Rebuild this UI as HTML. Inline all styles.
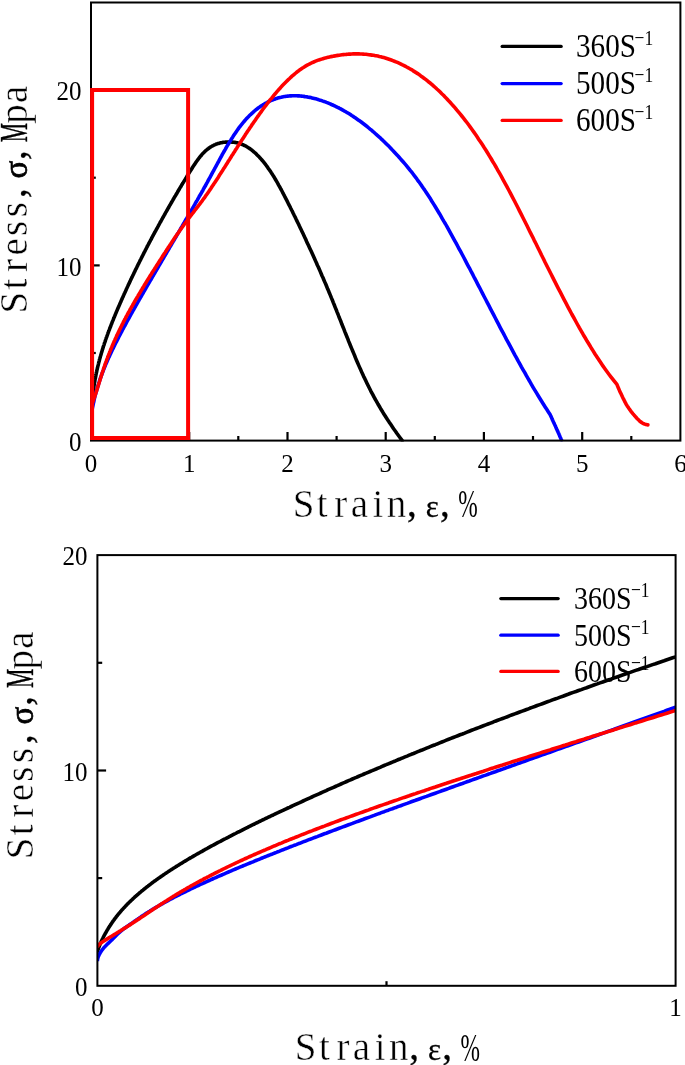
<!DOCTYPE html>
<html lang="en"><head><meta charset="utf-8"><title>Stress-strain curves</title>
<style>html,body{margin:0;padding:0;background:#fff}svg{display:block}</style></head>
<body>
<svg width="685" height="1065" viewBox="0 0 685 1065">
<rect width="685" height="1065" fill="#fff"/>
<g fill="none" stroke-width="3.6" stroke-linejoin="round" stroke-linecap="round" clip-path="url(#ct)">
<path d="M91.0 413.6 L91.0 413.5 L91.0 413.4 L91.0 413.3 L91.0 413.1 L91.0 413.0 L91.0 412.8 L91.0 412.6 L91.0 412.4 L91.0 412.2 L91.1 412.0 L91.1 411.8 L91.1 411.5 L91.1 411.3 L91.1 411.0 L91.1 410.8 L91.2 410.5 L91.2 410.2 L91.2 409.9 L91.2 409.6 L91.2 409.3 L91.3 409.0 L91.3 408.6 L91.3 408.3 L91.4 407.9 L91.4 407.6 L91.4 407.2 L91.4 406.8 L91.5 406.4 L91.5 406.0 L91.6 405.6 L91.6 405.2 L91.6 404.8 L91.7 404.4 L91.7 404.0 L91.8 403.5 L91.8 403.1 L91.8 402.7 L91.9 402.2 L91.9 401.7 L92.0 401.3 L92.0 400.8 L92.1 400.3 L92.1 399.9 L92.2 399.4 L92.2 398.9 L92.3 398.4 L92.4 397.9 L92.4 397.4 L92.5 396.9 L92.5 396.4 L92.6 395.9 L92.7 395.3 L92.7 394.8 L92.8 394.3 L92.9 393.8 L92.9 393.2 L93.0 392.7 L93.1 392.2 L93.1 391.6 L93.2 391.1 L93.3 390.5 L93.4 390.0 L93.4 389.5 L93.5 388.9 L93.6 388.4 L93.7 387.8 L93.8 387.3 L93.9 386.7 L93.9 386.2 L94.0 385.6 L94.1 385.1 L94.2 384.5 L94.3 384.0 L94.4 383.4 L94.5 382.9 L94.6 382.3 L94.7 381.8 L94.8 381.2 L94.9 380.7 L94.9 380.1 L95.0 379.6 L95.1 379.0 L95.3 378.5 L95.4 377.9 L95.5 377.4 L95.6 376.8 L95.7 376.3 L95.8 375.8 L95.9 375.2 L96.0 374.7 L96.1 374.1 L96.2 373.6 L96.3 373.0 L96.5 372.5 L96.6 371.9 L96.7 371.4 L96.8 370.8 L96.9 370.3 L97.0 369.8 L97.2 369.2 L97.3 368.7 L97.4 368.1 L97.5 367.6 L97.7 367.0 L97.8 366.5 L97.9 366.0 L98.1 365.4 L98.2 364.9 L98.3 364.3 L98.5 363.8 L98.6 363.3 L98.7 362.7 L98.9 362.2 L99.0 361.6 L99.2 361.1 L99.3 360.6 L99.4 360.0 L99.6 359.5 L99.7 358.9 L99.9 358.4 L100.0 357.8 L100.2 357.3 L100.3 356.8 L100.5 356.2 L100.6 355.7 L100.8 355.1 L101.0 354.6 L101.1 354.1 L101.3 353.5 L101.4 353.0 L101.6 352.4 L101.8 351.9 L101.9 351.3 L102.1 350.8 L102.2 350.3 L102.4 349.7 L102.6 349.2 L102.8 348.6 L102.9 348.1 L103.1 347.5 L103.3 347.0 L103.4 346.5 L103.6 345.9 L103.8 345.4 L104.0 344.8 L104.2 344.3 L104.3 343.7 L104.5 343.2 L104.7 342.6 L104.9 342.1 L105.1 341.5 L105.3 341.0 L105.4 340.4 L105.6 339.9 L105.8 339.3 L106.0 338.8 L106.2 338.2 L106.4 337.7 L106.6 337.1 L106.8 336.6 L107.0 336.0 L107.2 335.4 L107.4 334.9 L107.6 334.3 L107.8 333.8 L108.0 333.2 L108.2 332.7 L108.4 332.1 L108.6 331.5 L108.8 331.0 L109.0 330.4 L109.3 329.9 L109.5 329.3 L109.7 328.7 L109.9 328.2 L110.1 327.6 L110.3 327.0 L110.6 326.5 L110.8 325.9 L111.0 325.3 L111.2 324.7 L111.4 324.2 L111.7 323.6 L111.9 323.0 L112.1 322.4 L112.3 321.9 L112.6 321.3 L112.8 320.7 L113.0 320.1 L113.3 319.6 L113.5 319.0 L113.7 318.4 L114.0 317.8 L114.2 317.2 L114.5 316.6 L114.7 316.1 L114.9 315.5 L115.2 314.9 L115.4 314.3 L115.7 313.7 L115.9 313.1 L116.2 312.5 L116.4 311.9 L116.7 311.3 L116.9 310.7 L117.2 310.1 L117.4 309.5 L117.7 308.9 L118.0 308.3 L118.2 307.7 L118.5 307.1 L118.7 306.5 L119.0 305.9 L119.3 305.3 L119.5 304.7 L119.8 304.0 L120.1 303.4 L120.3 302.8 L120.6 302.2 L120.9 301.6 L121.1 301.0 L121.4 300.3 L121.7 299.7 L122.0 299.1 L122.2 298.5 L122.5 297.8 L122.8 297.2 L123.1 296.6 L123.4 295.9 L123.6 295.3 L123.9 294.7 L124.2 294.0 L124.5 293.4 L124.8 292.8 L125.1 292.1 L125.4 291.5 L125.7 290.8 L126.0 290.2 L126.2 289.6 L126.5 288.9 L126.8 288.3 L127.1 287.6 L127.4 287.0 L127.7 286.3 L128.0 285.7 L128.3 285.0 L128.6 284.4 L129.0 283.7 L129.3 283.0 L129.6 282.4 L129.9 281.7 L130.2 281.1 L130.5 280.4 L130.8 279.7 L131.1 279.1 L131.4 278.4 L131.8 277.7 L132.1 277.1 L132.4 276.4 L132.7 275.7 L133.0 275.1 L133.4 274.4 L133.7 273.7 L134.0 273.0 L134.3 272.4 L134.7 271.7 L135.0 271.0 L135.3 270.3 L135.6 269.6 L136.0 269.0 L136.3 268.3 L136.7 267.6 L137.0 266.9 L137.3 266.2 L137.7 265.5 L138.0 264.8 L138.3 264.1 L138.7 263.5 L139.0 262.8 L139.4 262.1 L139.7 261.4 L140.1 260.7 L140.4 260.0 L140.8 259.3 L141.1 258.6 L141.5 257.9 L141.8 257.2 L142.2 256.5 L142.5 255.8 L142.9 255.1 L143.3 254.4 L143.6 253.7 L144.0 252.9 L144.3 252.2 L144.7 251.5 L145.1 250.8 L145.4 250.1 L145.8 249.4 L146.2 248.7 L146.5 248.0 L146.9 247.2 L147.3 246.5 L147.6 245.8 L148.0 245.1 L148.4 244.4 L148.8 243.7 L149.2 242.9 L149.5 242.2 L149.9 241.5 L150.3 240.8 L150.7 240.0 L151.1 239.3 L151.5 238.6 L151.8 237.9 L152.2 237.1 L152.6 236.4 L153.0 235.7 L153.4 234.9 L153.8 234.2 L154.2 233.5 L154.6 232.7 L155.0 232.0 L155.4 231.2 L155.8 230.5 L156.2 229.8 L156.6 229.0 L157.0 228.3 L157.4 227.6 L157.8 226.8 L158.2 226.1 L158.6 225.3 L159.0 224.6 L159.4 223.8 L159.8 223.1 L160.2 222.3 L160.7 221.6 L161.1 220.8 L161.5 220.1 L161.9 219.3 L162.3 218.6 L162.7 217.8 L163.2 217.1 L163.6 216.3 L164.0 215.6 L164.4 214.8 L164.9 214.1 L165.3 213.3 L165.7 212.5 L166.2 211.8 L166.6 211.0 L167.0 210.3 L167.5 209.5 L167.9 208.7 L168.3 208.0 L168.8 207.2 L169.2 206.4 L169.9 205.2 L170.5 204.2 L171.0 203.3 L171.6 202.3 L172.1 201.4 L172.7 200.4 L173.2 199.4 L173.8 198.5 L174.3 197.5 L174.9 196.6 L175.5 195.6 L176.0 194.7 L176.6 193.7 L177.2 192.7 L177.7 191.8 L178.3 190.8 L178.9 189.8 L179.4 188.9 L180.0 187.9 L180.6 186.9 L181.2 186.0 L181.7 185.0 L182.3 184.0 L182.9 183.1 L183.5 182.1 L184.1 181.1 L184.7 180.1 L185.3 179.2 L185.9 178.2 L186.5 177.2 L187.0 176.3 L187.6 175.3 L188.2 174.3 L188.8 173.3 L189.5 172.4 L190.1 171.4 L190.7 170.4 L191.3 169.5 L191.9 168.5 L192.5 167.5 L193.1 166.6 L193.7 165.6 L194.4 164.7 L195.0 163.8 L195.6 162.8 L196.2 161.9 L196.9 161.0 L197.5 160.2 L198.1 159.3 L198.7 158.5 L199.4 157.6 L200.0 156.8 L200.7 156.1 L201.3 155.3 L201.9 154.5 L202.6 153.8 L203.2 153.1 L203.9 152.5 L204.5 151.8 L205.2 151.2 L205.8 150.6 L206.5 150.1 L207.1 149.5 L207.8 149.0 L208.5 148.5 L209.1 148.0 L209.8 147.5 L210.4 147.1 L211.1 146.7 L211.8 146.3 L212.5 145.9 L213.1 145.6 L213.8 145.2 L214.5 144.9 L215.2 144.6 L215.8 144.3 L216.5 144.1 L217.2 143.8 L217.9 143.6 L218.6 143.4 L219.3 143.2 L220.0 143.0 L220.7 142.8 L221.4 142.7 L222.1 142.6 L222.8 142.4 L223.5 142.3 L224.2 142.3 L224.9 142.2 L225.6 142.1 L226.3 142.1 L227.0 142.0 L227.7 142.0 L228.4 142.0 L229.1 142.0 L229.8 142.0 L230.6 142.0 L231.3 142.0 L232.0 142.1 L232.7 142.1 L233.5 142.2 L234.2 142.3 L234.9 142.4 L235.7 142.5 L236.4 142.7 L237.1 142.8 L237.9 143.0 L238.6 143.2 L239.4 143.4 L240.1 143.7 L240.8 143.9 L241.6 144.2 L242.3 144.5 L243.1 144.8 L243.8 145.2 L244.6 145.5 L245.4 145.9 L246.1 146.3 L246.9 146.8 L247.6 147.2 L248.4 147.7 L249.2 148.2 L249.9 148.8 L250.7 149.3 L251.5 149.9 L252.3 150.5 L253.0 151.1 L253.8 151.8 L254.6 152.5 L255.4 153.2 L256.2 153.9 L256.9 154.7 L257.7 155.5 L258.5 156.3 L259.3 157.1 L260.1 158.0 L260.9 158.9 L261.7 159.8 L262.5 160.7 L263.3 161.7 L264.1 162.7 L264.9 163.7 L265.7 164.7 L266.5 165.8 L267.3 166.9 L268.1 168.1 L268.9 169.2 L269.8 170.4 L270.6 171.6 L271.4 172.9 L272.2 174.1 L273.0 175.4 L273.9 176.8 L274.7 178.1 L275.5 179.5 L276.3 180.9 L277.2 182.4 L278.0 183.8 L278.8 185.3 L279.7 186.9 L280.5 188.4 L281.4 190.0 L282.2 191.5 L283.0 193.2 L283.9 194.8 L284.7 196.4 L285.6 198.1 L286.4 199.7 L287.3 201.4 L288.1 203.1 L289.0 204.8 L289.9 206.5 L290.7 208.2 L291.6 210.0 L292.5 211.7 L293.3 213.5 L294.2 215.3 L295.1 217.0 L295.9 218.8 L296.8 220.6 L297.7 222.5 L298.6 224.3 L299.4 226.1 L300.3 228.0 L301.2 229.8 L302.1 231.7 L303.0 233.6 L303.9 235.5 L304.8 237.4 L305.7 239.3 L306.5 241.2 L307.4 243.2 L308.3 245.1 L309.2 247.1 L310.1 249.0 L311.1 251.0 L312.0 253.0 L312.9 255.0 L313.8 257.0 L314.7 259.0 L315.6 261.1 L316.5 263.1 L317.4 265.2 L318.4 267.2 L319.3 269.3 L320.2 271.4 L321.1 273.5 L322.0 275.7 L323.0 277.8 L323.9 280.0 L324.8 282.1 L325.8 284.3 L326.7 286.5 L327.6 288.8 L328.6 291.0 L329.5 293.3 L330.5 295.6 L331.4 297.9 L332.4 300.2 L333.3 302.6 L334.3 305.0 L335.2 307.3 L336.2 309.7 L337.1 312.1 L338.1 314.5 L339.0 317.0 L340.0 319.4 L341.0 321.8 L341.9 324.3 L342.9 326.7 L343.9 329.2 L344.8 331.6 L345.8 334.0 L346.8 336.5 L347.8 338.9 L348.7 341.4 L349.7 343.8 L350.7 346.2 L351.7 348.6 L352.7 351.0 L353.7 353.4 L354.7 355.8 L355.6 358.1 L356.6 360.5 L357.6 362.8 L358.6 365.1 L359.6 367.4 L360.6 369.6 L361.6 371.9 L362.6 374.1 L363.6 376.3 L364.7 378.4 L365.7 380.6 L366.7 382.7 L367.7 384.8 L368.7 386.8 L369.7 388.8 L370.7 390.8 L371.8 392.8 L372.8 394.7 L373.8 396.6 L374.8 398.5 L375.9 400.4 L376.9 402.2 L377.9 404.0 L379.0 405.8 L380.0 407.5 L381.0 409.3 L382.1 411.0 L383.1 412.7 L384.2 414.4 L385.2 416.0 L386.3 417.7 L387.3 419.3 L388.4 420.9 L389.4 422.5 L390.5 424.1 L391.5 425.6 L392.6 427.2 L393.6 428.7 L394.7 430.2 L395.8 431.7 L396.8 433.2 L397.9 434.7 L399.0 436.2 L400.1 437.7 L401.1 439.1 L402.2 440.6" stroke="#000000"/>
<path d="M91.0 420.7 L91.0 420.5 L91.0 420.2 L91.0 420.0 L91.0 419.8 L91.0 419.6 L91.0 419.3 L91.0 419.1 L91.0 418.9 L91.0 418.6 L91.1 418.4 L91.1 418.2 L91.1 417.9 L91.1 417.7 L91.1 417.4 L91.1 417.2 L91.2 416.9 L91.2 416.6 L91.2 416.4 L91.2 416.1 L91.2 415.9 L91.3 415.6 L91.3 415.3 L91.3 415.1 L91.4 414.8 L91.4 414.5 L91.4 414.2 L91.4 414.0 L91.5 413.7 L91.5 413.4 L91.6 413.1 L91.6 412.9 L91.6 412.6 L91.7 412.3 L91.7 412.0 L91.8 411.7 L91.8 411.4 L91.8 411.2 L91.9 410.9 L91.9 410.6 L92.0 410.3 L92.0 410.0 L92.1 409.7 L92.1 409.4 L92.2 409.1 L92.2 408.9 L92.3 408.6 L92.4 408.3 L92.4 408.0 L92.5 407.7 L92.5 407.4 L92.6 407.1 L92.7 406.8 L92.7 406.5 L92.8 406.2 L92.9 405.9 L92.9 405.6 L93.0 405.3 L93.1 404.9 L93.1 404.6 L93.2 404.3 L93.3 403.9 L93.4 403.6 L93.4 403.2 L93.5 402.9 L93.6 402.5 L93.7 402.1 L93.8 401.7 L93.9 401.3 L93.9 400.9 L94.0 400.4 L94.1 400.0 L94.2 399.6 L94.3 399.1 L94.4 398.7 L94.5 398.3 L94.6 397.9 L94.7 397.4 L94.8 397.0 L94.9 396.6 L94.9 396.2 L95.0 395.8 L95.1 395.5 L95.3 395.1 L95.4 394.7 L95.5 394.3 L95.6 393.9 L95.7 393.6 L95.8 393.2 L95.9 392.8 L96.0 392.5 L96.1 392.1 L96.2 391.7 L96.3 391.3 L96.5 391.0 L96.6 390.6 L96.7 390.2 L96.8 389.8 L96.9 389.4 L97.0 389.0 L97.2 388.6 L97.3 388.2 L97.4 387.8 L97.5 387.4 L97.7 387.0 L97.8 386.5 L97.9 386.1 L98.1 385.7 L98.2 385.2 L98.3 384.8 L98.5 384.3 L98.6 383.9 L98.7 383.4 L98.9 383.0 L99.0 382.5 L99.2 382.1 L99.3 381.7 L99.4 381.2 L99.6 380.8 L99.7 380.3 L99.9 379.9 L100.0 379.4 L100.2 379.0 L100.3 378.6 L100.5 378.1 L100.6 377.7 L100.8 377.2 L101.0 376.8 L101.1 376.3 L101.3 375.9 L101.4 375.5 L101.6 375.0 L101.8 374.6 L101.9 374.1 L102.1 373.7 L102.2 373.2 L102.4 372.8 L102.6 372.3 L102.8 371.9 L102.9 371.5 L103.1 371.0 L103.3 370.6 L103.4 370.1 L103.6 369.7 L103.8 369.2 L104.0 368.8 L104.2 368.3 L104.3 367.9 L104.5 367.4 L104.7 367.0 L104.9 366.5 L105.1 366.1 L105.3 365.6 L105.4 365.2 L105.6 364.7 L105.8 364.3 L106.0 363.8 L106.2 363.4 L106.4 362.9 L106.6 362.5 L106.8 362.0 L107.0 361.6 L107.2 361.1 L107.4 360.6 L107.6 360.2 L107.8 359.7 L108.0 359.3 L108.2 358.8 L108.4 358.4 L108.6 357.9 L108.8 357.4 L109.0 357.0 L109.3 356.5 L109.5 356.0 L109.7 355.6 L109.9 355.1 L110.1 354.6 L110.3 354.2 L110.6 353.7 L110.8 353.2 L111.0 352.8 L111.2 352.3 L111.4 351.8 L111.7 351.3 L111.9 350.9 L112.1 350.4 L112.3 349.9 L112.6 349.4 L112.8 349.0 L113.0 348.5 L113.3 348.0 L113.5 347.5 L113.7 347.0 L114.0 346.6 L114.2 346.1 L114.5 345.6 L114.7 345.1 L114.9 344.6 L115.2 344.1 L115.4 343.6 L115.7 343.1 L115.9 342.6 L116.2 342.1 L116.4 341.7 L116.7 341.2 L116.9 340.7 L117.2 340.2 L117.4 339.7 L117.7 339.2 L118.0 338.7 L118.2 338.2 L118.5 337.6 L118.7 337.1 L119.0 336.6 L119.3 336.1 L119.5 335.6 L119.8 335.1 L120.1 334.6 L120.3 334.1 L120.6 333.6 L120.9 333.0 L121.1 332.5 L121.4 332.0 L121.7 331.5 L122.0 331.0 L122.2 330.4 L122.5 329.9 L122.8 329.4 L123.1 328.9 L123.4 328.3 L123.6 327.8 L123.9 327.3 L124.2 326.8 L124.5 326.2 L124.8 325.7 L125.1 325.2 L125.4 324.6 L125.7 324.1 L126.0 323.5 L126.2 323.0 L126.5 322.5 L126.8 321.9 L127.1 321.4 L127.4 320.8 L127.7 320.3 L128.0 319.7 L128.3 319.2 L128.6 318.6 L129.0 318.1 L129.3 317.5 L129.6 316.9 L129.9 316.4 L130.2 315.8 L130.5 315.3 L130.8 314.7 L131.1 314.1 L131.4 313.6 L131.8 313.0 L132.1 312.4 L132.4 311.9 L132.7 311.3 L133.0 310.7 L133.4 310.1 L133.7 309.6 L134.0 309.0 L134.3 308.4 L134.7 307.8 L135.0 307.2 L135.3 306.7 L135.6 306.1 L136.0 305.5 L136.3 304.9 L136.7 304.3 L137.0 303.7 L137.3 303.1 L137.7 302.5 L138.0 301.9 L138.3 301.3 L138.7 300.7 L139.0 300.1 L139.4 299.5 L139.7 298.9 L140.1 298.3 L140.4 297.7 L140.8 297.1 L141.1 296.5 L141.5 295.9 L141.8 295.2 L142.2 294.6 L142.5 294.0 L142.9 293.4 L143.3 292.8 L143.6 292.1 L144.0 291.5 L144.3 290.9 L144.7 290.3 L145.1 289.6 L145.4 289.0 L145.8 288.4 L146.2 287.7 L146.5 287.1 L146.9 286.4 L147.3 285.8 L147.6 285.2 L148.0 284.5 L148.4 283.9 L148.8 283.2 L149.2 282.6 L149.5 281.9 L149.9 281.3 L150.3 280.6 L150.7 280.0 L151.1 279.3 L151.5 278.6 L151.8 278.0 L152.2 277.3 L152.6 276.6 L153.0 276.0 L153.4 275.3 L153.8 274.6 L154.2 273.9 L154.6 273.3 L155.0 272.6 L155.4 271.9 L155.8 271.2 L156.2 270.5 L156.6 269.8 L157.0 269.2 L157.4 268.5 L157.8 267.8 L158.2 267.1 L158.6 266.4 L159.0 265.7 L159.4 265.0 L159.8 264.3 L160.2 263.6 L160.7 262.9 L161.1 262.2 L161.5 261.5 L161.9 260.7 L162.3 260.0 L162.7 259.3 L163.2 258.6 L163.6 257.9 L164.0 257.1 L164.4 256.4 L164.9 255.7 L165.3 255.0 L165.7 254.2 L166.2 253.5 L166.6 252.8 L167.0 252.0 L167.5 251.3 L167.9 250.5 L168.3 249.8 L168.8 249.0 L169.2 248.3 L169.6 247.5 L170.4 246.3 L171.1 245.1 L171.8 243.9 L172.5 242.7 L173.2 241.4 L174.0 240.2 L174.7 239.0 L175.4 237.7 L176.2 236.5 L176.9 235.2 L177.6 233.9 L178.4 232.6 L179.1 231.4 L179.9 230.1 L180.6 228.8 L181.4 227.5 L182.2 226.2 L182.9 224.9 L183.7 223.5 L184.5 222.2 L185.2 220.9 L186.0 219.5 L186.8 218.2 L187.6 216.8 L188.4 215.5 L189.2 214.1 L190.0 212.7 L190.8 211.4 L191.6 210.0 L192.4 208.6 L193.2 207.2 L194.0 205.8 L194.8 204.4 L195.6 202.9 L196.4 201.5 L197.3 200.1 L198.1 198.6 L198.9 197.2 L199.7 195.7 L200.6 194.2 L201.4 192.8 L202.3 191.3 L203.1 189.8 L203.9 188.2 L204.8 186.7 L205.7 185.2 L206.5 183.6 L207.4 182.1 L208.2 180.5 L209.1 178.9 L210.0 177.3 L210.9 175.7 L211.7 174.1 L212.6 172.4 L213.5 170.8 L214.4 169.2 L215.3 167.5 L216.2 165.8 L217.1 164.2 L218.0 162.5 L218.9 160.9 L219.8 159.2 L220.7 157.5 L221.6 155.9 L222.5 154.2 L223.4 152.6 L224.3 151.0 L225.3 149.4 L226.2 147.7 L227.1 146.1 L228.1 144.6 L229.0 143.0 L229.9 141.4 L230.9 139.9 L231.8 138.4 L232.8 136.9 L233.7 135.4 L234.7 134.0 L235.7 132.6 L236.6 131.2 L237.6 129.8 L238.6 128.4 L239.5 127.1 L240.5 125.8 L241.5 124.6 L242.5 123.4 L243.5 122.2 L244.5 121.0 L245.4 119.9 L246.4 118.8 L247.4 117.7 L248.4 116.7 L249.4 115.6 L250.5 114.7 L251.5 113.7 L252.5 112.8 L253.5 111.9 L254.5 111.0 L255.5 110.1 L256.6 109.3 L257.6 108.5 L258.6 107.7 L259.7 107.0 L260.7 106.3 L261.8 105.6 L262.8 104.9 L263.9 104.3 L264.9 103.6 L266.0 103.0 L267.0 102.5 L268.1 101.9 L269.2 101.4 L270.2 100.9 L271.3 100.4 L272.4 100.0 L273.5 99.6 L274.5 99.2 L275.6 98.8 L276.7 98.4 L277.8 98.1 L278.9 97.8 L280.0 97.5 L281.1 97.3 L282.2 97.0 L283.3 96.8 L284.4 96.6 L285.5 96.4 L286.6 96.3 L287.8 96.1 L288.9 96.0 L290.0 95.9 L291.1 95.9 L292.3 95.8 L293.4 95.8 L294.6 95.8 L295.7 95.8 L296.8 95.8 L298.0 95.9 L299.1 95.9 L300.3 96.0 L301.5 96.1 L302.6 96.3 L303.8 96.4 L305.0 96.6 L306.1 96.7 L307.3 96.9 L308.5 97.2 L309.7 97.4 L310.8 97.6 L312.0 97.9 L313.2 98.2 L314.4 98.5 L315.6 98.8 L316.8 99.1 L318.0 99.5 L319.2 99.9 L320.4 100.2 L321.7 100.6 L322.9 101.1 L324.1 101.5 L325.3 101.9 L326.5 102.4 L327.8 102.9 L329.0 103.4 L330.2 103.9 L331.5 104.5 L332.7 105.0 L334.0 105.6 L335.2 106.2 L336.5 106.8 L337.7 107.4 L339.0 108.0 L340.2 108.7 L341.5 109.4 L342.8 110.1 L344.0 110.8 L345.3 111.5 L346.6 112.3 L347.9 113.0 L349.2 113.8 L350.4 114.6 L351.7 115.5 L353.0 116.3 L354.3 117.2 L355.6 118.1 L356.9 119.0 L358.2 119.9 L359.5 120.8 L360.9 121.8 L362.2 122.8 L363.5 123.8 L364.8 124.8 L366.1 125.8 L367.5 126.9 L368.8 128.0 L370.1 129.1 L371.5 130.2 L372.8 131.3 L374.2 132.5 L375.5 133.7 L376.8 134.9 L378.2 136.1 L379.6 137.3 L380.9 138.6 L382.3 139.9 L383.7 141.2 L385.0 142.5 L386.4 143.9 L387.8 145.2 L389.2 146.6 L390.5 148.0 L391.9 149.5 L393.3 150.9 L394.7 152.4 L396.1 153.9 L397.5 155.4 L398.9 157.0 L400.3 158.6 L401.7 160.2 L403.1 161.8 L404.5 163.4 L406.0 165.1 L407.4 166.8 L408.8 168.6 L410.2 170.4 L411.7 172.2 L413.1 174.0 L414.5 175.9 L416.0 177.8 L417.4 179.8 L418.9 181.8 L420.3 183.8 L421.8 185.9 L423.2 188.0 L424.7 190.1 L426.1 192.3 L427.6 194.6 L429.1 196.8 L430.6 199.1 L432.0 201.5 L433.5 203.9 L435.0 206.3 L436.5 208.7 L438.0 211.2 L439.5 213.7 L440.9 216.2 L442.4 218.8 L443.9 221.4 L445.5 224.0 L447.0 226.7 L448.5 229.4 L450.0 232.1 L451.5 234.8 L453.0 237.6 L454.5 240.3 L456.1 243.1 L457.6 246.0 L459.1 248.8 L460.7 251.7 L462.2 254.5 L463.8 257.5 L465.3 260.4 L466.8 263.3 L468.4 266.3 L470.0 269.2 L471.5 272.2 L473.1 275.2 L474.6 278.2 L476.2 281.2 L477.8 284.3 L479.4 287.3 L480.9 290.3 L482.5 293.4 L484.1 296.5 L485.7 299.5 L487.3 302.6 L488.9 305.7 L490.5 308.8 L492.1 311.8 L493.7 314.9 L495.3 318.0 L496.9 321.1 L498.5 324.2 L500.1 327.3 L501.7 330.3 L503.4 333.4 L505.0 336.5 L506.6 339.6 L508.3 342.6 L509.9 345.7 L511.5 348.7 L513.2 351.8 L514.8 354.8 L516.5 357.8 L518.1 360.8 L519.8 363.8 L521.4 366.8 L523.1 369.8 L524.8 372.7 L526.4 375.7 L528.1 378.6 L529.8 381.5 L531.4 384.4 L533.1 387.3 L534.8 390.1 L536.5 392.9 L538.2 395.7 L539.9 398.5 L541.6 401.2 L543.3 404.0 L545.0 406.7 L546.7 409.3 L548.4 412.0 L550.1 414.6 L550.4 415.2 L550.7 415.9 L551.0 416.5 L551.3 417.1 L551.6 417.8 L551.9 418.4 L552.1 419.0 L552.4 419.7 L552.7 420.3 L553.0 421.0 L553.3 421.6 L553.6 422.3 L553.9 422.9 L554.2 423.5 L554.5 424.2 L554.8 424.8 L555.1 425.5 L555.4 426.1 L555.7 426.8 L555.9 427.4 L556.2 428.1 L556.5 428.7 L556.8 429.4 L557.1 430.1 L557.4 430.7 L557.7 431.4 L558.0 432.0 L558.3 432.7 L558.6 433.3 L558.9 434.0 L559.2 434.7 L559.5 435.3 L559.7 436.0 L560.0 436.7 L560.3 437.3 L560.6 438.0 L560.9 438.7 L561.2 439.3 L561.5 440.0" stroke="#0000ff"/>
<path d="M91.0 409.2 L91.0 409.1 L91.0 409.0 L91.0 408.9 L91.0 408.9 L91.0 408.8 L91.0 408.7 L91.0 408.6 L91.0 408.5 L91.0 408.4 L91.1 408.3 L91.1 408.2 L91.1 408.1 L91.1 408.0 L91.1 407.9 L91.1 407.8 L91.2 407.6 L91.2 407.5 L91.2 407.4 L91.2 407.3 L91.2 407.2 L91.3 407.1 L91.3 407.0 L91.3 406.8 L91.4 406.7 L91.4 406.6 L91.4 406.5 L91.4 406.4 L91.5 406.2 L91.5 406.1 L91.6 406.0 L91.6 405.8 L91.6 405.7 L91.7 405.5 L91.7 405.4 L91.8 405.3 L91.8 405.1 L91.8 405.0 L91.9 404.8 L91.9 404.7 L92.0 404.5 L92.0 404.4 L92.1 404.2 L92.1 404.0 L92.2 403.9 L92.2 403.7 L92.3 403.5 L92.4 403.3 L92.4 403.2 L92.5 403.0 L92.5 402.8 L92.6 402.6 L92.7 402.4 L92.7 402.2 L92.8 402.0 L92.9 401.8 L92.9 401.6 L93.0 401.4 L93.1 401.2 L93.1 401.0 L93.2 400.8 L93.3 400.6 L93.4 400.4 L93.4 400.1 L93.5 399.9 L93.6 399.7 L93.7 399.4 L93.8 399.2 L93.9 399.0 L93.9 398.7 L94.0 398.5 L94.1 398.2 L94.2 397.9 L94.3 397.7 L94.4 397.4 L94.5 397.2 L94.6 396.9 L94.7 396.6 L94.8 396.3 L94.9 396.0 L94.9 395.7 L95.0 395.4 L95.1 395.1 L95.3 394.8 L95.4 394.5 L95.5 394.2 L95.6 393.9 L95.7 393.6 L95.8 393.3 L95.9 392.9 L96.0 392.6 L96.1 392.3 L96.2 391.9 L96.3 391.6 L96.5 391.2 L96.6 390.9 L96.7 390.5 L96.8 390.1 L96.9 389.7 L97.0 389.4 L97.2 389.0 L97.3 388.6 L97.4 388.2 L97.5 387.8 L97.7 387.4 L97.8 387.0 L97.9 386.6 L98.1 386.2 L98.2 385.7 L98.3 385.3 L98.5 384.9 L98.6 384.4 L98.7 384.0 L98.9 383.5 L99.0 383.1 L99.2 382.6 L99.3 382.2 L99.4 381.7 L99.6 381.3 L99.7 380.8 L99.9 380.3 L100.0 379.8 L100.2 379.4 L100.3 378.9 L100.5 378.4 L100.6 377.9 L100.8 377.4 L101.0 376.9 L101.1 376.4 L101.3 375.9 L101.4 375.4 L101.6 374.9 L101.8 374.4 L101.9 373.9 L102.1 373.4 L102.2 372.9 L102.4 372.3 L102.6 371.8 L102.8 371.3 L102.9 370.8 L103.1 370.3 L103.3 369.7 L103.4 369.2 L103.6 368.7 L103.8 368.2 L104.0 367.6 L104.2 367.1 L104.3 366.6 L104.5 366.1 L104.7 365.5 L104.9 365.0 L105.1 364.5 L105.3 363.9 L105.4 363.4 L105.6 362.9 L105.8 362.3 L106.0 361.8 L106.2 361.3 L106.4 360.7 L106.6 360.2 L106.8 359.7 L107.0 359.1 L107.2 358.6 L107.4 358.1 L107.6 357.5 L107.8 357.0 L108.0 356.4 L108.2 355.9 L108.4 355.4 L108.6 354.8 L108.8 354.3 L109.0 353.8 L109.3 353.2 L109.5 352.7 L109.7 352.2 L109.9 351.6 L110.1 351.1 L110.3 350.5 L110.6 350.0 L110.8 349.5 L111.0 348.9 L111.2 348.4 L111.4 347.8 L111.7 347.3 L111.9 346.8 L112.1 346.2 L112.3 345.7 L112.6 345.1 L112.8 344.6 L113.0 344.1 L113.3 343.5 L113.5 343.0 L113.7 342.4 L114.0 341.9 L114.2 341.4 L114.5 340.8 L114.7 340.3 L114.9 339.7 L115.2 339.2 L115.4 338.6 L115.7 338.1 L115.9 337.6 L116.2 337.0 L116.4 336.5 L116.7 335.9 L116.9 335.4 L117.2 334.8 L117.4 334.3 L117.7 333.7 L118.0 333.2 L118.2 332.7 L118.5 332.1 L118.7 331.6 L119.0 331.0 L119.3 330.5 L119.5 329.9 L119.8 329.4 L120.1 328.8 L120.3 328.3 L120.6 327.7 L120.9 327.2 L121.1 326.6 L121.4 326.1 L121.7 325.5 L122.0 325.0 L122.2 324.5 L122.5 323.9 L122.8 323.4 L123.1 322.8 L123.4 322.3 L123.6 321.7 L123.9 321.2 L124.2 320.6 L124.5 320.0 L124.8 319.5 L125.1 318.9 L125.4 318.4 L125.7 317.8 L126.0 317.3 L126.2 316.7 L126.5 316.2 L126.8 315.6 L127.1 315.1 L127.4 314.5 L127.7 314.0 L128.0 313.4 L128.3 312.8 L128.6 312.3 L129.0 311.7 L129.3 311.2 L129.6 310.6 L129.9 310.0 L130.2 309.5 L130.5 308.9 L130.8 308.4 L131.1 307.8 L131.4 307.2 L131.8 306.7 L132.1 306.1 L132.4 305.6 L132.7 305.0 L133.0 304.4 L133.4 303.9 L133.7 303.3 L134.0 302.7 L134.3 302.2 L134.7 301.6 L135.0 301.0 L135.3 300.4 L135.6 299.9 L136.0 299.3 L136.3 298.7 L136.7 298.2 L137.0 297.6 L137.3 297.0 L137.7 296.4 L138.0 295.9 L138.3 295.3 L138.7 294.7 L139.0 294.1 L139.4 293.6 L139.7 293.0 L140.1 292.4 L140.4 291.8 L140.8 291.2 L141.1 290.6 L141.5 290.0 L141.8 289.5 L142.2 288.9 L142.5 288.3 L142.9 287.7 L143.3 287.1 L143.6 286.5 L144.0 285.9 L144.3 285.3 L144.7 284.7 L145.1 284.1 L145.4 283.5 L145.8 282.9 L146.2 282.3 L146.5 281.7 L146.9 281.1 L147.3 280.5 L147.6 279.9 L148.0 279.3 L148.4 278.7 L148.8 278.1 L149.2 277.5 L149.5 276.9 L149.9 276.2 L150.3 275.6 L150.7 275.0 L151.1 274.4 L151.5 273.8 L151.8 273.2 L152.2 272.6 L152.6 271.9 L153.0 271.3 L153.4 270.7 L153.8 270.1 L154.2 269.5 L154.6 268.8 L155.0 268.2 L155.4 267.6 L155.8 267.0 L156.2 266.3 L156.6 265.7 L157.0 265.1 L157.4 264.4 L157.8 263.8 L158.2 263.2 L158.6 262.5 L159.0 261.9 L159.4 261.3 L159.8 260.6 L160.2 260.0 L160.7 259.3 L161.1 258.7 L161.5 258.0 L161.9 257.4 L162.3 256.7 L162.7 256.1 L163.2 255.4 L163.6 254.8 L164.0 254.1 L164.4 253.5 L164.9 252.8 L165.3 252.2 L165.7 251.5 L166.2 250.9 L166.6 250.2 L167.0 249.5 L167.5 248.9 L167.9 248.2 L168.3 247.5 L168.8 246.9 L169.2 246.2 L169.9 245.1 L170.7 244.0 L171.5 242.8 L172.2 241.6 L173.0 240.4 L173.8 239.2 L174.6 238.0 L175.4 236.9 L176.2 235.7 L177.0 234.5 L177.9 233.3 L178.7 232.2 L179.5 231.0 L180.3 229.8 L181.2 228.6 L182.0 227.5 L182.8 226.3 L183.7 225.1 L184.5 224.0 L185.4 222.8 L186.2 221.7 L187.1 220.5 L187.9 219.4 L188.8 218.2 L189.7 217.1 L190.5 216.0 L191.4 214.8 L192.3 213.7 L193.2 212.6 L194.1 211.4 L194.9 210.3 L195.8 209.1 L196.7 208.0 L197.6 206.8 L198.5 205.6 L199.5 204.4 L200.4 203.2 L201.3 202.0 L202.2 200.8 L203.1 199.5 L204.1 198.2 L205.0 196.9 L205.9 195.6 L206.9 194.2 L207.8 192.9 L208.8 191.5 L209.7 190.1 L210.7 188.7 L211.6 187.3 L212.6 185.8 L213.6 184.4 L214.5 182.9 L215.5 181.4 L216.5 179.9 L217.5 178.4 L218.5 176.9 L219.4 175.3 L220.4 173.8 L221.4 172.2 L222.4 170.7 L223.4 169.1 L224.5 167.5 L225.5 165.9 L226.5 164.3 L227.5 162.7 L228.5 161.0 L229.6 159.4 L230.6 157.8 L231.6 156.1 L232.7 154.5 L233.7 152.9 L234.8 151.2 L235.8 149.5 L236.9 147.9 L237.9 146.2 L239.0 144.6 L240.1 142.9 L241.1 141.2 L242.2 139.6 L243.3 137.9 L244.4 136.3 L245.4 134.6 L246.5 133.0 L247.6 131.3 L248.7 129.7 L249.8 128.0 L250.9 126.4 L252.0 124.7 L253.2 123.1 L254.3 121.5 L255.4 119.9 L256.5 118.3 L257.6 116.7 L258.8 115.1 L259.9 113.5 L261.1 111.9 L262.2 110.3 L263.3 108.8 L264.5 107.2 L265.7 105.7 L266.8 104.2 L268.0 102.7 L269.1 101.2 L270.3 99.7 L271.5 98.3 L272.7 96.8 L273.8 95.4 L275.0 94.0 L276.2 92.6 L277.4 91.2 L278.6 89.8 L279.8 88.5 L281.0 87.1 L282.2 85.8 L283.4 84.6 L284.7 83.3 L285.9 82.1 L287.1 80.8 L288.3 79.7 L289.6 78.5 L290.8 77.3 L292.0 76.2 L293.3 75.1 L294.5 74.1 L295.8 73.0 L297.0 72.0 L298.3 71.1 L299.5 70.1 L300.8 69.2 L302.1 68.3 L303.4 67.5 L304.6 66.7 L305.9 65.9 L307.2 65.2 L308.5 64.5 L309.8 63.8 L311.1 63.2 L312.4 62.5 L313.7 62.0 L315.0 61.4 L316.3 60.9 L317.6 60.4 L318.9 59.9 L320.3 59.5 L321.6 59.1 L322.9 58.7 L324.3 58.3 L325.6 57.9 L326.9 57.6 L328.3 57.2 L329.6 56.9 L331.0 56.6 L332.3 56.4 L333.7 56.1 L335.1 55.9 L336.4 55.6 L337.8 55.4 L339.2 55.2 L340.6 55.0 L342.0 54.8 L343.4 54.6 L344.7 54.5 L346.1 54.4 L347.5 54.2 L348.9 54.1 L350.4 54.1 L351.8 54.0 L353.2 53.9 L354.6 53.9 L356.0 53.9 L357.4 53.9 L358.9 53.9 L360.3 54.0 L361.8 54.0 L363.2 54.1 L364.6 54.2 L366.1 54.3 L367.5 54.5 L369.0 54.7 L370.5 54.9 L371.9 55.1 L373.4 55.3 L374.9 55.6 L376.3 55.8 L377.8 56.1 L379.3 56.5 L380.8 56.8 L382.3 57.2 L383.8 57.6 L385.3 58.0 L386.8 58.5 L388.3 59.0 L389.8 59.5 L391.3 60.0 L392.8 60.6 L394.4 61.2 L395.9 61.8 L397.4 62.4 L399.0 63.1 L400.5 63.8 L402.0 64.6 L403.6 65.3 L405.1 66.1 L406.7 67.0 L408.2 67.8 L409.8 68.7 L411.4 69.6 L412.9 70.6 L414.5 71.6 L416.1 72.6 L417.7 73.6 L419.3 74.7 L420.8 75.9 L422.4 77.0 L424.0 78.2 L425.6 79.4 L427.2 80.7 L428.8 82.0 L430.5 83.3 L432.1 84.7 L433.7 86.1 L435.3 87.5 L436.9 89.0 L438.6 90.5 L440.2 92.1 L441.8 93.7 L443.5 95.3 L445.1 97.0 L446.8 98.7 L448.4 100.5 L450.1 102.3 L451.7 104.1 L453.4 106.0 L455.1 107.9 L456.7 109.9 L458.4 111.9 L460.1 113.9 L461.8 116.0 L463.5 118.1 L465.2 120.3 L466.9 122.5 L468.6 124.8 L470.3 127.1 L472.0 129.5 L473.7 131.9 L475.4 134.3 L477.1 136.8 L478.8 139.4 L480.6 142.0 L482.3 144.6 L484.0 147.3 L485.8 150.0 L487.5 152.8 L489.2 155.6 L491.0 158.5 L492.7 161.5 L494.5 164.4 L496.3 167.5 L498.0 170.6 L499.8 173.7 L501.6 176.9 L503.3 180.1 L505.1 183.4 L506.9 186.7 L508.7 190.0 L510.5 193.4 L512.3 196.8 L514.1 200.3 L515.9 203.8 L517.7 207.3 L519.5 210.9 L521.3 214.4 L523.1 218.0 L525.0 221.7 L526.8 225.3 L528.6 229.0 L530.4 232.7 L532.3 236.3 L534.1 240.1 L536.0 243.8 L537.8 247.5 L539.7 251.2 L541.5 255.0 L543.4 258.7 L545.2 262.5 L547.1 266.2 L549.0 270.0 L550.9 273.7 L552.7 277.4 L554.6 281.1 L556.5 284.9 L558.4 288.6 L560.3 292.2 L562.2 295.9 L564.1 299.6 L566.0 303.2 L567.9 306.8 L569.8 310.4 L571.7 314.0 L573.7 317.5 L575.6 321.0 L577.5 324.5 L579.4 327.9 L581.4 331.3 L583.3 334.7 L585.3 338.0 L587.2 341.3 L589.2 344.5 L591.1 347.7 L593.1 350.9 L595.0 354.0 L597.0 357.0 L599.0 360.0 L601.0 363.0 L602.9 365.9 L604.9 368.7 L606.9 371.5 L608.9 374.2 L610.9 376.8 L612.9 379.4 L614.9 381.9 L616.9 384.3 L617.7 386.3 L618.5 388.2 L619.3 390.1 L620.1 391.9 L620.9 393.6 L621.7 395.3 L622.5 397.0 L623.3 398.6 L624.1 400.1 L624.8 401.7 L625.6 403.1 L626.4 404.6 L627.2 405.9 L628.0 407.1 L628.8 408.3 L629.6 409.4 L630.4 410.5 L631.2 411.6 L632.0 412.6 L632.8 413.6 L633.6 414.5 L634.4 415.5 L635.2 416.4 L636.0 417.3 L636.8 418.2 L637.6 419.0 L638.4 419.8 L639.2 420.6 L640.0 421.3 L640.7 421.9 L641.5 422.4 L642.3 423.0 L643.1 423.4 L643.9 423.8 L644.7 424.1 L645.5 424.4 L646.3 424.6 L647.1 424.8 L647.9 424.9" stroke="#ff0000"/>
</g>
<g fill="none" stroke-width="3.6" stroke-linejoin="round" clip-path="url(#cb)">
<path d="M97.4 952.6 L97.4 952.5 L97.4 952.4 L97.4 952.2 L97.5 952.0 L97.5 951.8 L97.5 951.6 L97.6 951.4 L97.6 951.2 L97.7 950.9 L97.8 950.6 L97.8 950.4 L97.9 950.1 L98.0 949.8 L98.1 949.5 L98.2 949.1 L98.3 948.8 L98.4 948.4 L98.6 948.1 L98.7 947.7 L98.9 947.3 L99.0 946.9 L99.2 946.5 L99.3 946.1 L99.5 945.6 L99.7 945.2 L99.9 944.8 L100.0 944.3 L100.2 943.8 L100.5 943.3 L100.7 942.8 L100.9 942.3 L101.1 941.8 L101.4 941.3 L101.6 940.8 L101.8 940.3 L102.1 939.7 L102.4 939.2 L102.6 938.6 L102.9 938.1 L103.2 937.5 L103.5 936.9 L103.8 936.3 L104.1 935.7 L104.4 935.1 L104.8 934.5 L105.1 933.9 L105.4 933.3 L105.8 932.7 L106.1 932.1 L106.5 931.4 L106.8 930.8 L107.2 930.2 L107.6 929.5 L108.0 928.9 L108.4 928.2 L108.8 927.6 L109.2 926.9 L109.6 926.3 L110.0 925.6 L110.5 925.0 L110.9 924.3 L111.4 923.6 L111.8 923.0 L112.3 922.3 L112.7 921.6 L113.2 920.9 L113.7 920.3 L114.2 919.6 L114.7 918.9 L115.2 918.2 L115.7 917.6 L116.2 916.9 L116.8 916.2 L117.3 915.5 L117.8 914.9 L118.4 914.2 L118.9 913.5 L119.5 912.8 L120.1 912.2 L120.6 911.5 L121.2 910.8 L121.8 910.1 L122.4 909.5 L123.0 908.8 L123.6 908.1 L124.3 907.5 L124.9 906.8 L125.5 906.1 L126.2 905.4 L126.8 904.8 L127.5 904.1 L128.1 903.4 L128.8 902.8 L129.5 902.1 L130.2 901.4 L130.9 900.7 L131.6 900.1 L132.3 899.4 L133.0 898.7 L133.7 898.1 L134.4 897.4 L135.2 896.7 L135.9 896.1 L136.7 895.4 L137.4 894.7 L138.2 894.1 L139.0 893.4 L139.8 892.7 L140.6 892.1 L141.3 891.4 L142.1 890.8 L143.0 890.1 L143.8 889.4 L144.6 888.8 L145.4 888.1 L146.3 887.4 L147.1 886.8 L148.0 886.1 L148.8 885.4 L149.7 884.8 L150.6 884.1 L151.5 883.4 L152.3 882.8 L153.2 882.1 L154.1 881.4 L155.1 880.8 L156.0 880.1 L156.9 879.4 L157.8 878.8 L158.8 878.1 L159.7 877.5 L160.7 876.8 L161.6 876.1 L162.6 875.5 L163.6 874.8 L164.6 874.1 L165.6 873.4 L166.6 872.8 L167.6 872.1 L168.6 871.4 L169.6 870.8 L170.6 870.1 L171.7 869.4 L172.7 868.8 L173.8 868.1 L174.8 867.4 L175.9 866.7 L177.0 866.1 L178.0 865.4 L179.1 864.7 L180.2 864.0 L181.3 863.4 L182.4 862.7 L183.5 862.0 L184.7 861.3 L185.8 860.7 L186.9 860.0 L188.1 859.3 L189.2 858.6 L190.4 857.9 L191.5 857.3 L192.7 856.6 L193.9 855.9 L195.1 855.2 L196.3 854.5 L197.5 853.8 L198.7 853.2 L199.9 852.5 L201.1 851.8 L202.4 851.1 L203.6 850.4 L204.8 849.7 L206.1 849.0 L207.4 848.3 L208.6 847.6 L209.9 846.9 L211.2 846.2 L212.5 845.5 L213.8 844.8 L215.1 844.1 L216.4 843.4 L217.7 842.7 L219.0 842.0 L220.4 841.3 L221.7 840.6 L223.0 839.9 L224.4 839.2 L225.8 838.5 L227.1 837.8 L228.5 837.1 L229.9 836.3 L231.3 835.6 L232.7 834.9 L234.1 834.2 L235.5 833.5 L236.9 832.7 L238.3 832.0 L239.8 831.3 L241.2 830.6 L242.7 829.8 L244.1 829.1 L245.6 828.4 L247.1 827.7 L248.5 826.9 L250.0 826.2 L251.5 825.4 L253.0 824.7 L254.5 824.0 L256.0 823.2 L257.6 822.5 L259.1 821.7 L260.6 821.0 L262.2 820.2 L263.7 819.5 L265.3 818.7 L266.8 818.0 L268.4 817.2 L270.0 816.5 L271.6 815.7 L273.2 815.0 L274.8 814.2 L276.4 813.4 L278.0 812.7 L279.6 811.9 L281.3 811.1 L282.9 810.4 L284.5 809.6 L286.2 808.8 L287.9 808.0 L289.5 807.3 L291.2 806.5 L292.9 805.7 L294.6 804.9 L296.3 804.1 L298.0 803.3 L299.7 802.6 L301.4 801.8 L303.1 801.0 L304.9 800.2 L306.6 799.4 L308.3 798.6 L310.1 797.8 L311.9 797.0 L313.6 796.2 L315.4 795.4 L317.2 794.6 L319.0 793.8 L320.8 793.0 L322.6 792.2 L324.4 791.4 L326.2 790.6 L328.0 789.7 L329.9 788.9 L331.7 788.1 L333.6 787.3 L335.4 786.5 L337.3 785.7 L339.2 784.8 L341.0 784.0 L342.9 783.2 L344.8 782.4 L346.7 781.5 L348.6 780.7 L350.5 779.9 L352.4 779.0 L354.4 778.2 L356.3 777.4 L358.3 776.5 L360.2 775.7 L362.2 774.9 L364.1 774.0 L366.1 773.2 L368.1 772.3 L370.1 771.5 L372.1 770.7 L374.1 769.8 L376.1 769.0 L378.1 768.1 L380.1 767.3 L382.1 766.4 L384.2 765.5 L386.2 764.7 L388.3 763.8 L390.3 763.0 L392.4 762.1 L394.5 761.3 L396.6 760.4 L398.6 759.5 L400.7 758.7 L402.8 757.8 L405.0 756.9 L407.1 756.1 L409.2 755.2 L411.3 754.3 L413.5 753.5 L415.6 752.6 L417.8 751.7 L419.9 750.8 L422.1 750.0 L424.3 749.1 L426.5 748.2 L428.6 747.3 L430.8 746.4 L433.0 745.5 L435.3 744.7 L437.5 743.8 L439.7 742.9 L441.9 742.0 L444.2 741.1 L446.4 740.2 L448.7 739.3 L450.9 738.4 L453.2 737.5 L455.5 736.6 L457.8 735.7 L460.1 734.8 L462.4 734.0 L464.7 733.1 L467.0 732.1 L469.3 731.2 L471.6 730.3 L474.0 729.4 L476.3 728.5 L478.7 727.6 L481.0 726.7 L483.4 725.8 L485.8 724.9 L488.1 724.0 L490.5 723.1 L492.9 722.2 L495.3 721.2 L497.7 720.3 L500.1 719.4 L502.6 718.5 L505.0 717.6 L507.4 716.7 L509.9 715.7 L512.3 714.8 L514.8 713.9 L517.2 713.0 L519.7 712.0 L522.2 711.1 L524.7 710.2 L527.2 709.3 L529.7 708.3 L532.2 707.4 L534.7 706.5 L537.2 705.5 L539.8 704.6 L542.3 703.7 L544.9 702.7 L547.4 701.8 L550.0 700.9 L552.5 699.9 L555.1 699.0 L557.7 698.1 L560.3 697.1 L562.9 696.2 L565.5 695.2 L568.1 694.3 L570.7 693.3 L573.3 692.4 L576.0 691.5 L578.6 690.5 L581.3 689.6 L583.9 688.6 L586.6 687.7 L589.2 686.7 L591.9 685.8 L594.6 684.8 L597.3 683.9 L600.0 682.9 L602.7 682.0 L605.4 681.0 L608.1 680.0 L610.9 679.1 L613.6 678.1 L616.3 677.2 L619.1 676.2 L621.8 675.3 L624.6 674.3 L627.4 673.3 L630.2 672.4 L632.9 671.4 L635.7 670.4 L638.5 669.5 L641.3 668.5 L644.2 667.5 L647.0 666.6 L649.8 665.6 L652.6 664.6 L655.5 663.7 L658.3 662.7 L661.2 661.7 L664.1 660.8 L666.9 659.8 L669.8 658.8 L672.7 657.8 L675.6 656.9" stroke="#000000"/>
<path d="M97.4 961.3 L97.4 961.0 L97.4 960.8 L97.4 960.5 L97.5 960.2 L97.5 960.0 L97.5 959.7 L97.6 959.4 L97.6 959.1 L97.7 958.8 L97.8 958.5 L97.8 958.2 L97.9 957.9 L98.0 957.6 L98.1 957.3 L98.2 957.0 L98.3 956.7 L98.4 956.4 L98.6 956.0 L98.7 955.7 L98.9 955.4 L99.0 955.1 L99.2 954.7 L99.3 954.4 L99.5 954.1 L99.7 953.7 L99.9 953.4 L100.0 953.1 L100.2 952.7 L100.5 952.4 L100.7 952.0 L100.9 951.7 L101.1 951.4 L101.4 951.0 L101.6 950.7 L101.8 950.3 L102.1 950.0 L102.4 949.6 L102.6 949.3 L102.9 948.9 L103.2 948.6 L103.5 948.2 L103.8 947.8 L104.1 947.5 L104.4 947.1 L104.8 946.8 L105.1 946.4 L105.4 946.1 L105.8 945.7 L106.1 945.4 L106.5 945.0 L106.8 944.6 L107.2 944.3 L107.6 943.9 L108.0 943.5 L108.4 943.2 L108.8 942.8 L109.2 942.4 L109.6 942.0 L110.0 941.6 L110.5 941.2 L110.9 940.8 L111.4 940.3 L111.8 939.9 L112.3 939.4 L112.7 939.0 L113.2 938.5 L113.7 938.0 L114.2 937.5 L114.7 937.0 L115.2 936.5 L115.7 935.9 L116.2 935.4 L116.8 934.9 L117.3 934.3 L117.8 933.8 L118.4 933.3 L118.9 932.8 L119.5 932.3 L120.1 931.8 L120.6 931.3 L121.2 930.8 L121.8 930.3 L122.4 929.8 L123.0 929.4 L123.6 928.9 L124.3 928.5 L124.9 928.0 L125.5 927.5 L126.2 927.1 L126.8 926.6 L127.5 926.2 L128.1 925.7 L128.8 925.3 L129.5 924.8 L130.2 924.3 L130.9 923.9 L131.6 923.4 L132.3 922.9 L133.0 922.4 L133.7 921.9 L134.4 921.4 L135.2 920.9 L135.9 920.4 L136.7 919.9 L137.4 919.4 L138.2 918.8 L139.0 918.3 L139.8 917.7 L140.6 917.2 L141.3 916.6 L142.1 916.1 L143.0 915.5 L143.8 915.0 L144.6 914.5 L145.4 913.9 L146.3 913.4 L147.1 912.8 L148.0 912.3 L148.8 911.7 L149.7 911.2 L150.6 910.6 L151.5 910.1 L152.3 909.6 L153.2 909.0 L154.1 908.5 L155.1 907.9 L156.0 907.4 L156.9 906.8 L157.8 906.3 L158.8 905.7 L159.7 905.2 L160.7 904.7 L161.6 904.1 L162.6 903.6 L163.6 903.0 L164.6 902.5 L165.6 901.9 L166.6 901.4 L167.6 900.8 L168.6 900.3 L169.6 899.7 L170.6 899.2 L171.7 898.6 L172.7 898.1 L173.8 897.5 L174.8 897.0 L175.9 896.4 L177.0 895.9 L178.0 895.3 L179.1 894.8 L180.2 894.2 L181.3 893.7 L182.4 893.1 L183.5 892.6 L184.7 892.0 L185.8 891.5 L186.9 890.9 L188.1 890.3 L189.2 889.8 L190.4 889.2 L191.5 888.7 L192.7 888.1 L193.9 887.5 L195.1 887.0 L196.3 886.4 L197.5 885.9 L198.7 885.3 L199.9 884.7 L201.1 884.2 L202.4 883.6 L203.6 883.0 L204.8 882.5 L206.1 881.9 L207.4 881.3 L208.6 880.7 L209.9 880.2 L211.2 879.6 L212.5 879.0 L213.8 878.4 L215.1 877.9 L216.4 877.3 L217.7 876.7 L219.0 876.1 L220.4 875.5 L221.7 875.0 L223.0 874.4 L224.4 873.8 L225.8 873.2 L227.1 872.6 L228.5 872.0 L229.9 871.4 L231.3 870.8 L232.7 870.2 L234.1 869.6 L235.5 869.0 L236.9 868.4 L238.3 867.8 L239.8 867.2 L241.2 866.6 L242.7 866.0 L244.1 865.4 L245.6 864.8 L247.1 864.2 L248.5 863.6 L250.0 863.0 L251.5 862.4 L253.0 861.8 L254.5 861.1 L256.0 860.5 L257.6 859.9 L259.1 859.3 L260.6 858.7 L262.2 858.0 L263.7 857.4 L265.3 856.8 L266.8 856.2 L268.4 855.5 L270.0 854.9 L271.6 854.3 L273.2 853.6 L274.8 853.0 L276.4 852.4 L278.0 851.7 L279.6 851.1 L281.3 850.4 L282.9 849.8 L284.5 849.1 L286.2 848.5 L287.9 847.9 L289.5 847.2 L291.2 846.5 L292.9 845.9 L294.6 845.2 L296.3 844.6 L298.0 843.9 L299.7 843.3 L301.4 842.6 L303.1 841.9 L304.9 841.3 L306.6 840.6 L308.3 839.9 L310.1 839.3 L311.9 838.6 L313.6 837.9 L315.4 837.2 L317.2 836.6 L319.0 835.9 L320.8 835.2 L322.6 834.5 L324.4 833.8 L326.2 833.2 L328.0 832.5 L329.9 831.8 L331.7 831.1 L333.6 830.4 L335.4 829.7 L337.3 829.0 L339.2 828.3 L341.0 827.6 L342.9 826.9 L344.8 826.2 L346.7 825.5 L348.6 824.8 L350.5 824.1 L352.4 823.4 L354.4 822.6 L356.3 821.9 L358.3 821.2 L360.2 820.5 L362.2 819.8 L364.1 819.0 L366.1 818.3 L368.1 817.6 L370.1 816.9 L372.1 816.1 L374.1 815.4 L376.1 814.6 L378.1 813.9 L380.1 813.2 L382.1 812.4 L384.2 811.7 L386.2 810.9 L388.3 810.2 L390.3 809.4 L392.4 808.7 L394.5 807.9 L396.6 807.2 L398.6 806.4 L400.7 805.7 L402.8 804.9 L405.0 804.1 L407.1 803.4 L409.2 802.6 L411.3 801.8 L413.5 801.0 L415.6 800.3 L417.8 799.5 L419.9 798.7 L422.1 797.9 L424.3 797.1 L426.5 796.4 L428.6 795.6 L430.8 794.8 L433.0 794.0 L435.3 793.2 L437.5 792.4 L439.7 791.6 L441.9 790.8 L444.2 790.0 L446.4 789.2 L448.7 788.4 L450.9 787.5 L453.2 786.7 L455.5 785.9 L457.8 785.1 L460.1 784.3 L462.4 783.5 L464.7 782.6 L467.0 781.8 L469.3 781.0 L471.6 780.1 L474.0 779.3 L476.3 778.5 L478.7 777.6 L481.0 776.8 L483.4 775.9 L485.8 775.1 L488.1 774.2 L490.5 773.4 L492.9 772.5 L495.3 771.7 L497.7 770.8 L500.1 770.0 L502.6 769.1 L505.0 768.2 L507.4 767.4 L509.9 766.5 L512.3 765.6 L514.8 764.7 L517.2 763.9 L519.7 763.0 L522.2 762.1 L524.7 761.2 L527.2 760.3 L529.7 759.4 L532.2 758.5 L534.7 757.6 L537.2 756.7 L539.8 755.8 L542.3 754.9 L544.9 754.0 L547.4 753.1 L550.0 752.2 L552.5 751.3 L555.1 750.3 L557.7 749.4 L560.3 748.5 L562.9 747.6 L565.5 746.6 L568.1 745.7 L570.7 744.8 L573.3 743.8 L576.0 742.9 L578.6 742.0 L581.3 741.0 L583.9 740.1 L586.6 739.1 L589.2 738.2 L591.9 737.2 L594.6 736.3 L597.3 735.3 L600.0 734.3 L602.7 733.4 L605.4 732.4 L608.1 731.4 L610.9 730.4 L613.6 729.5 L616.3 728.5 L619.1 727.5 L621.8 726.5 L624.6 725.5 L627.4 724.5 L630.2 723.5 L632.9 722.5 L635.7 721.5 L638.5 720.5 L641.3 719.5 L644.2 718.5 L647.0 717.5 L649.8 716.5 L652.6 715.5 L655.5 714.4 L658.3 713.4 L661.2 712.4 L664.1 711.4 L666.9 710.3 L669.8 709.3 L672.7 708.2 L675.6 707.2" stroke="#0000ff"/>
<path d="M97.4 947.2 L97.4 947.1 L97.4 947.0 L97.4 946.9 L97.5 946.8 L97.5 946.7 L97.5 946.6 L97.6 946.4 L97.6 946.3 L97.7 946.2 L97.8 946.1 L97.8 945.9 L97.9 945.8 L98.0 945.7 L98.1 945.6 L98.2 945.4 L98.3 945.3 L98.4 945.2 L98.6 945.0 L98.7 944.9 L98.9 944.8 L99.0 944.6 L99.2 944.5 L99.3 944.3 L99.5 944.2 L99.7 944.0 L99.9 943.9 L100.0 943.7 L100.2 943.6 L100.5 943.4 L100.7 943.2 L100.9 943.1 L101.1 942.9 L101.4 942.7 L101.6 942.6 L101.8 942.4 L102.1 942.2 L102.4 942.0 L102.6 941.8 L102.9 941.6 L103.2 941.4 L103.5 941.3 L103.8 941.1 L104.1 940.9 L104.4 940.6 L104.8 940.4 L105.1 940.2 L105.4 940.0 L105.8 939.8 L106.1 939.6 L106.5 939.4 L106.8 939.1 L107.2 938.9 L107.6 938.7 L108.0 938.4 L108.4 938.2 L108.8 937.9 L109.2 937.7 L109.6 937.4 L110.0 937.2 L110.5 936.9 L110.9 936.6 L111.4 936.4 L111.8 936.1 L112.3 935.8 L112.7 935.5 L113.2 935.2 L113.7 934.9 L114.2 934.6 L114.7 934.3 L115.2 934.0 L115.7 933.7 L116.2 933.4 L116.8 933.1 L117.3 932.7 L117.8 932.4 L118.4 932.1 L118.9 931.7 L119.5 931.4 L120.1 931.0 L120.6 930.7 L121.2 930.3 L121.8 929.9 L122.4 929.6 L123.0 929.2 L123.6 928.8 L124.3 928.4 L124.9 928.0 L125.5 927.6 L126.2 927.2 L126.8 926.8 L127.5 926.4 L128.1 926.0 L128.8 925.5 L129.5 925.1 L130.2 924.7 L130.9 924.2 L131.6 923.8 L132.3 923.3 L133.0 922.8 L133.7 922.4 L134.4 921.9 L135.2 921.4 L135.9 920.9 L136.7 920.4 L137.4 919.9 L138.2 919.4 L139.0 918.9 L139.8 918.4 L140.6 917.8 L141.3 917.3 L142.1 916.8 L143.0 916.2 L143.8 915.7 L144.6 915.1 L145.4 914.6 L146.3 914.0 L147.1 913.4 L148.0 912.9 L148.8 912.3 L149.7 911.7 L150.6 911.1 L151.5 910.5 L152.3 909.9 L153.2 909.3 L154.1 908.7 L155.1 908.1 L156.0 907.5 L156.9 906.9 L157.8 906.3 L158.8 905.7 L159.7 905.1 L160.7 904.4 L161.6 903.8 L162.6 903.2 L163.6 902.6 L164.6 901.9 L165.6 901.3 L166.6 900.7 L167.6 900.0 L168.6 899.4 L169.6 898.7 L170.6 898.1 L171.7 897.4 L172.7 896.8 L173.8 896.1 L174.8 895.5 L175.9 894.8 L177.0 894.2 L178.0 893.5 L179.1 892.9 L180.2 892.2 L181.3 891.6 L182.4 890.9 L183.5 890.3 L184.7 889.6 L185.8 889.0 L186.9 888.3 L188.1 887.6 L189.2 887.0 L190.4 886.3 L191.5 885.7 L192.7 885.0 L193.9 884.4 L195.1 883.7 L196.3 883.0 L197.5 882.4 L198.7 881.7 L199.9 881.1 L201.1 880.4 L202.4 879.8 L203.6 879.1 L204.8 878.4 L206.1 877.8 L207.4 877.1 L208.6 876.5 L209.9 875.8 L211.2 875.1 L212.5 874.5 L213.8 873.8 L215.1 873.1 L216.4 872.5 L217.7 871.8 L219.0 871.2 L220.4 870.5 L221.7 869.8 L223.0 869.2 L224.4 868.5 L225.8 867.8 L227.1 867.2 L228.5 866.5 L229.9 865.8 L231.3 865.2 L232.7 864.5 L234.1 863.8 L235.5 863.2 L236.9 862.5 L238.3 861.8 L239.8 861.2 L241.2 860.5 L242.7 859.8 L244.1 859.2 L245.6 858.5 L247.1 857.8 L248.5 857.2 L250.0 856.5 L251.5 855.8 L253.0 855.2 L254.5 854.5 L256.0 853.8 L257.6 853.1 L259.1 852.5 L260.6 851.8 L262.2 851.1 L263.7 850.5 L265.3 849.8 L266.8 849.1 L268.4 848.5 L270.0 847.8 L271.6 847.1 L273.2 846.4 L274.8 845.8 L276.4 845.1 L278.0 844.4 L279.6 843.7 L281.3 843.1 L282.9 842.4 L284.5 841.7 L286.2 841.0 L287.9 840.4 L289.5 839.7 L291.2 839.0 L292.9 838.3 L294.6 837.7 L296.3 837.0 L298.0 836.3 L299.7 835.6 L301.4 834.9 L303.1 834.3 L304.9 833.6 L306.6 832.9 L308.3 832.2 L310.1 831.5 L311.9 830.9 L313.6 830.2 L315.4 829.5 L317.2 828.8 L319.0 828.1 L320.8 827.4 L322.6 826.7 L324.4 826.1 L326.2 825.4 L328.0 824.7 L329.9 824.0 L331.7 823.3 L333.6 822.6 L335.4 821.9 L337.3 821.2 L339.2 820.5 L341.0 819.8 L342.9 819.1 L344.8 818.5 L346.7 817.8 L348.6 817.1 L350.5 816.4 L352.4 815.7 L354.4 815.0 L356.3 814.3 L358.3 813.6 L360.2 812.9 L362.2 812.2 L364.1 811.5 L366.1 810.8 L368.1 810.1 L370.1 809.3 L372.1 808.6 L374.1 807.9 L376.1 807.2 L378.1 806.5 L380.1 805.8 L382.1 805.1 L384.2 804.4 L386.2 803.7 L388.3 803.0 L390.3 802.2 L392.4 801.5 L394.5 800.8 L396.6 800.1 L398.6 799.4 L400.7 798.6 L402.8 797.9 L405.0 797.2 L407.1 796.5 L409.2 795.8 L411.3 795.0 L413.5 794.3 L415.6 793.6 L417.8 792.8 L419.9 792.1 L422.1 791.4 L424.3 790.7 L426.5 789.9 L428.6 789.2 L430.8 788.4 L433.0 787.7 L435.3 787.0 L437.5 786.2 L439.7 785.5 L441.9 784.7 L444.2 784.0 L446.4 783.3 L448.7 782.5 L450.9 781.8 L453.2 781.0 L455.5 780.3 L457.8 779.5 L460.1 778.8 L462.4 778.0 L464.7 777.3 L467.0 776.5 L469.3 775.7 L471.6 775.0 L474.0 774.2 L476.3 773.5 L478.7 772.7 L481.0 771.9 L483.4 771.2 L485.8 770.4 L488.1 769.6 L490.5 768.8 L492.9 768.1 L495.3 767.3 L497.7 766.5 L500.1 765.7 L502.6 765.0 L505.0 764.2 L507.4 763.4 L509.9 762.6 L512.3 761.8 L514.8 761.0 L517.2 760.3 L519.7 759.5 L522.2 758.7 L524.7 757.9 L527.2 757.1 L529.7 756.3 L532.2 755.5 L534.7 754.7 L537.2 753.9 L539.8 753.1 L542.3 752.3 L544.9 751.5 L547.4 750.7 L550.0 749.9 L552.5 749.0 L555.1 748.2 L557.7 747.4 L560.3 746.6 L562.9 745.8 L565.5 745.0 L568.1 744.1 L570.7 743.3 L573.3 742.5 L576.0 741.7 L578.6 740.8 L581.3 740.0 L583.9 739.2 L586.6 738.3 L589.2 737.5 L591.9 736.6 L594.6 735.8 L597.3 735.0 L600.0 734.1 L602.7 733.3 L605.4 732.4 L608.1 731.6 L610.9 730.7 L613.6 729.9 L616.3 729.0 L619.1 728.1 L621.8 727.3 L624.6 726.4 L627.4 725.5 L630.2 724.7 L632.9 723.8 L635.7 722.9 L638.5 722.1 L641.3 721.2 L644.2 720.3 L647.0 719.4 L649.8 718.5 L652.6 717.7 L655.5 716.8 L658.3 715.9 L661.2 715.0 L664.1 714.1 L666.9 713.2 L669.8 712.3 L672.7 711.4 L675.6 710.5" stroke="#ff0000"/>
</g>
<defs><clipPath id="ct"><rect x="91.0" y="2.5" width="589.4" height="439.1"/></clipPath>
<clipPath id="cb"><rect x="97.4" y="555.1" width="579.2" height="430.7"/></clipPath></defs>
<g stroke="#000" stroke-width="2" fill="none">
<rect x="91.0" y="2.5" width="589.4" height="438.1"/>
</g><g stroke="#000" stroke-width="2.2">
<line x1="189.2" y1="440.6" x2="189.2" y2="432.0"/>
<line x1="287.5" y1="440.6" x2="287.5" y2="432.0"/>
<line x1="385.7" y1="440.6" x2="385.7" y2="432.0"/>
<line x1="483.9" y1="440.6" x2="483.9" y2="432.0"/>
<line x1="582.2" y1="440.6" x2="582.2" y2="432.0"/>
<line x1="140.1" y1="440.6" x2="140.1" y2="436.0"/>
<line x1="238.3" y1="440.6" x2="238.3" y2="436.0"/>
<line x1="336.6" y1="440.6" x2="336.6" y2="436.0"/>
<line x1="434.8" y1="440.6" x2="434.8" y2="436.0"/>
<line x1="533.0" y1="440.6" x2="533.0" y2="436.0"/>
<line x1="631.3" y1="440.6" x2="631.3" y2="436.0"/>
<line x1="91.0" y1="265.4" x2="99.7" y2="265.4"/>
<line x1="91.0" y1="90.1" x2="99.7" y2="90.1"/>
<line x1="91.0" y1="353.0" x2="95.8" y2="353.0"/>
<line x1="91.0" y1="177.7" x2="95.8" y2="177.7"/>
</g>
<g stroke="#000" stroke-width="2" fill="none">
<rect x="97.4" y="555.1" width="578.2" height="430.7"/>
</g><g stroke="#000" stroke-width="2.2">
<line x1="386.5" y1="985.8" x2="386.5" y2="981.2"/>
<line x1="97.4" y1="770.5" x2="106.1" y2="770.5"/>
<line x1="97.4" y1="878.1" x2="102.2" y2="878.1"/>
<line x1="97.4" y1="662.8" x2="102.2" y2="662.8"/>
</g>
<rect x="92.1" y="90" width="96" height="348" fill="none" stroke="#ff0000" stroke-width="4"/>
<g font-family="'Liberation Serif', 'Noto Serif CJK SC', serif" font-size="25" fill="#000">
<text transform="translate(81.6,450.9) scale(1,1.05)" text-anchor="end">0</text>
<text transform="translate(81.6,275.7) scale(1,1.05)" text-anchor="end">10</text>
<text transform="translate(81.6,100.4) scale(1,1.05)" text-anchor="end">20</text>
<text transform="translate(91.0,471.8) scale(1,1.04)" text-anchor="middle">0</text>
<text transform="translate(189.2,471.8) scale(1,1.04)" text-anchor="middle">1</text>
<text transform="translate(287.5,471.8) scale(1,1.04)" text-anchor="middle">2</text>
<text transform="translate(385.7,471.8) scale(1,1.04)" text-anchor="middle">3</text>
<text transform="translate(483.9,471.8) scale(1,1.04)" text-anchor="middle">4</text>
<text transform="translate(582.2,471.8) scale(1,1.04)" text-anchor="middle">5</text>
<text transform="translate(680.4,471.8) scale(1,1.04)" text-anchor="middle">6</text>
<text transform="translate(87.6,996.1) scale(1,1.05)" text-anchor="end">0</text>
<text transform="translate(87.6,780.8) scale(1,1.05)" text-anchor="end">10</text>
<text transform="translate(87.6,565.4) scale(1,1.05)" text-anchor="end">20</text>
<text transform="translate(97.4,1016.2) scale(1,1.04)" text-anchor="middle">0</text>
<text transform="translate(675.6,1016.2) scale(1,1.04)" text-anchor="middle">1</text>
</g>
<g font-family="'Liberation Serif', 'Noto Serif CJK SC', serif" fill="#000" stroke="#fff" stroke-width="0.45">
<text y="516.5" font-size="39.0" text-anchor="middle"><tspan x="303.5 322.1 340.7 359.3 377.9 396.5">Strain</tspan><tspan x="411.8" y="515.5" stroke="#000" stroke-width="0.3">,</tspan><tspan font-size="1" x="421.5"> </tspan><tspan x="432.3" y="516.8" font-size="31" stroke="#000" stroke-width="0.3">ε</tspan><tspan x="444.8" y="515.5" stroke="#000" stroke-width="0.3">,</tspan><tspan font-size="1" x="453.5"> </tspan><tspan x="468.0" y="517.0" font-size="39" stroke="none" textLength="19.5" lengthAdjust="spacingAndGlyphs">%</tspan></text>
<text y="1060.0" font-size="39.0" text-anchor="middle"><tspan x="305.7 324.3 342.9 361.5 380.1 398.7">Strain</tspan><tspan x="414.0" y="1059.0" stroke="#000" stroke-width="0.3">,</tspan><tspan font-size="1" x="423.7"> </tspan><tspan x="434.5" y="1060.3" font-size="31" stroke="#000" stroke-width="0.3">ε</tspan><tspan x="447.0" y="1059.0" stroke="#000" stroke-width="0.3">,</tspan><tspan font-size="1" x="455.7"> </tspan><tspan x="470.2" y="1060.5" font-size="39" stroke="none" textLength="19.5" lengthAdjust="spacingAndGlyphs">%</tspan></text>
<text transform="translate(26.5,302.7) rotate(-90)" y="0" font-size="39.0" text-anchor="middle"><tspan x="0.0 18.6 37.2 55.8 74.4 93.0">Stress</tspan><tspan x="109.5" y="-1.5" stroke="#000" stroke-width="0.3">,</tspan><tspan font-size="1" x="120.0"> </tspan><tspan x="133" y="0.5" font-size="33" stroke="#000" stroke-width="0.7">σ</tspan><tspan x="147.7" y="-1.5" stroke="#000" stroke-width="0.3">,</tspan><tspan font-size="1" x="157.0"> </tspan><tspan x="170.2" y="0" textLength="19.4" lengthAdjust="spacingAndGlyphs" stroke="#000" stroke-width="0.35">M</tspan><tspan x="188.7 208.4">pa</tspan></text>
<text transform="translate(32.5,848.5) rotate(-90)" y="0" font-size="39.0" text-anchor="middle"><tspan x="0.0 18.6 37.2 55.8 74.4 93.0">Stress</tspan><tspan x="109.5" y="-1.5" stroke="#000" stroke-width="0.3">,</tspan><tspan font-size="1" x="120.0"> </tspan><tspan x="133" y="0.5" font-size="33" stroke="#000" stroke-width="0.7">σ</tspan><tspan x="147.7" y="-1.5" stroke="#000" stroke-width="0.3">,</tspan><tspan font-size="1" x="157.0"> </tspan><tspan x="170.2" y="0" textLength="19.4" lengthAdjust="spacingAndGlyphs" stroke="#000" stroke-width="0.35">M</tspan><tspan x="188.7 208.4">pa</tspan></text>
</g>
<g stroke-width="3.4" fill="none" stroke-linecap="round">
<line x1="502.2" y1="46.4" x2="561.1" y2="46.4" stroke="#000000"/>
<line x1="502.2" y1="83.6" x2="561.1" y2="83.6" stroke="#0000ff"/>
<line x1="502.2" y1="120.4" x2="561.1" y2="120.4" stroke="#ff0000"/>
</g>
<g font-family="'Liberation Serif', 'Noto Serif CJK SC', serif" fill="#000">
<text transform="translate(576.0,57.2) scale(1,1.120)" font-size="29.2">360S<tspan font-size="19.53" x="58.6" dy="-10.71" textLength="18.6" lengthAdjust="spacingAndGlyphs">−1</tspan></text>
<text transform="translate(576.0,94.4) scale(1,1.120)" font-size="29.2">500S<tspan font-size="19.53" x="58.6" dy="-10.71" textLength="18.6" lengthAdjust="spacingAndGlyphs">−1</tspan></text>
<text transform="translate(576.0,131.2) scale(1,1.120)" font-size="29.2">600S<tspan font-size="19.53" x="58.6" dy="-10.71" textLength="18.6" lengthAdjust="spacingAndGlyphs">−1</tspan></text>
</g>
<g stroke-width="3.2" fill="none" stroke-linecap="round">
<line x1="500.8" y1="598.6" x2="558.2" y2="598.6" stroke="#000000"/>
<line x1="500.8" y1="635.2" x2="558.2" y2="635.2" stroke="#0000ff"/>
<line x1="500.8" y1="671.4" x2="558.2" y2="671.4" stroke="#ff0000"/>
</g>
<g font-family="'Liberation Serif', 'Noto Serif CJK SC', serif" fill="#000">
<text transform="translate(574.0,608.9) scale(1,1.120)" font-size="28.0">360S<tspan font-size="19.53" x="57.0" dy="-10.36" textLength="18.6" lengthAdjust="spacingAndGlyphs">−1</tspan></text>
<text transform="translate(574.0,645.5) scale(1,1.120)" font-size="28.0">500S<tspan font-size="19.53" x="57.0" dy="-10.36" textLength="18.6" lengthAdjust="spacingAndGlyphs">−1</tspan></text>
<text transform="translate(574.0,681.7) scale(1,1.120)" font-size="28.0">600S<tspan font-size="19.53" x="57.0" dy="-10.36" textLength="18.6" lengthAdjust="spacingAndGlyphs">−1</tspan></text>
</g>
</svg>
</body></html>
